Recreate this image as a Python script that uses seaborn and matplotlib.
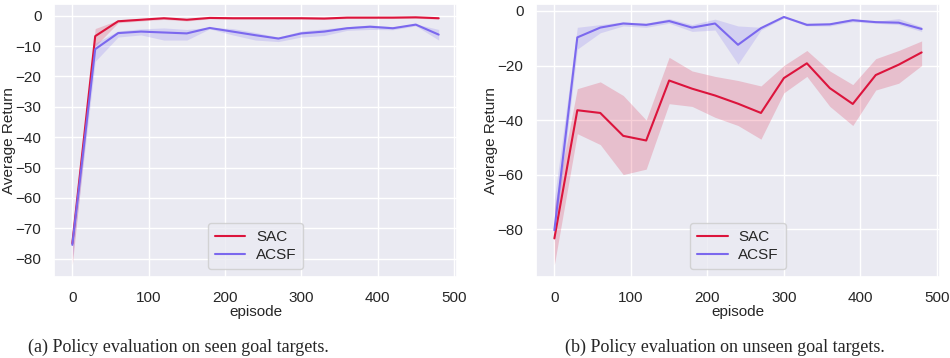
import matplotlib
matplotlib.use("Agg")
import matplotlib.pyplot as plt
import seaborn as sns
import pandas as pd

episodes = [0, 30, 60, 90, 120, 150, 180, 210, 240, 270, 300, 330, 360, 390, 420, 450, 480]

# (a) seen goal targets
seen_sac = [-75, -6.7, -1.8, -1.3, -0.8, -1.3, -0.7, -0.8, -0.8, -0.8, -0.8, -0.9, -0.6, -0.6, -0.6, -0.5, -0.8]
seen_sac_lo = [-82, -10, -2.3, -1.7, -1.2, -1.7, -1.0, -1.1, -1.1, -1.1, -1.1, -1.2, -0.9, -0.9, -0.9, -0.8, -1.1]
seen_sac_hi = [-72, -4.2, -1.4, -0.9, -0.5, -0.9, -0.4, -0.5, -0.5, -0.5, -0.5, -0.6, -0.3, -0.3, -0.3, -0.2, -0.5]
seen_acsf = [-75.5, -11, -5.7, -5.2, -5.5, -5.8, -4.0, -5.2, -6.4, -7.5, -5.8, -5.2, -4.1, -3.6, -4.1, -2.9, -6.2]
seen_acsf_lo = [-80, -15, -7.0, -6.3, -8.0, -8.0, -4.3, -6.3, -8.0, -8.5, -7.0, -6.5, -4.8, -4.5, -4.6, -3.3, -8.0]
seen_acsf_hi = [-71, -9, -5.0, -4.3, -4.0, -4.5, -3.8, -4.2, -5.5, -7.0, -5.0, -4.3, -3.6, -3.0, -3.6, -2.7, -4.5]

# (b) unseen goal targets
unseen_sac = [-83.4, -36.4, -37.4, -45.8, -47.5, -25.5, -28.5, -31, -34, -37.4, -24.6, -19.2, -28.3, -34.1, -23.5, -19.7, -15.2]
unseen_sac_lo = [-93, -45, -49, -60, -58, -34, -35, -39, -42, -47, -30, -24, -35, -42, -29, -26.5, -20]
unseen_sac_hi = [-72, -28.5, -26, -31, -40, -17, -22, -24, -25.5, -27.5, -20, -14.5, -22, -27, -17.5, -14.5, -11]
unseen_acsf = [-80.4, -9.7, -6.1, -4.6, -5.1, -3.7, -6.1, -4.6, -12.4, -6.3, -2.2, -5.1, -4.9, -3.4, -4.1, -4.3, -6.6]
unseen_acsf_lo = [-85, -14, -8, -5.5, -6, -4.5, -7.5, -7, -19.5, -7, -2.5, -5.5, -5.5, -4, -4.5, -5, -7.5]
unseen_acsf_hi = [-69, -6, -5, -4, -4.5, -2.8, -5, -3, -5.5, -6, -2, -4.5, -4.5, -2.8, -3.8, -2.8, -5.8]

captions = ["(a) Policy evaluation on seen goal targets.",
            "(b) Policy evaluation on unseen goal targets."]

sns.set_theme(style="darkgrid")
plt.rcParams["font.family"] = ["Liberation Sans", "DejaVu Sans"]
palette = {"SAC": "#DC143C", "ACSF": "#7B68EE"}

fig = plt.figure(figsize=(9.5, 3.58), dpi=100)
ax1 = fig.add_axes([54 / 950, 81 / 358, 403 / 950, 273 / 358])
ax2 = fig.add_axes([536 / 950, 81 / 358, 404 / 950, 273 / 358])

panels = [
    (ax1, seen_sac, seen_sac_lo, seen_sac_hi, seen_acsf, seen_acsf_lo, seen_acsf_hi),
    (ax2, unseen_sac, unseen_sac_lo, unseen_sac_hi, unseen_acsf, unseen_acsf_lo, unseen_acsf_hi),
]

for ax, sac, sac_lo, sac_hi, acsf, acsf_lo, acsf_hi in panels:
    df = pd.DataFrame({
        "episode": episodes * 2,
        "Average Return": sac + acsf,
        "algo": ["SAC"] * len(episodes) + ["ACSF"] * len(episodes),
    })
    sns.lineplot(data=df, x="episode", y="Average Return", hue="algo",
                 palette=palette, ax=ax, linewidth=1.5)
    ax.fill_between(episodes, sac_lo, sac_hi, color=palette["SAC"], alpha=0.2, linewidth=0)
    ax.fill_between(episodes, acsf_lo, acsf_hi, color=palette["ACSF"], alpha=0.2, linewidth=0)
    ax.set_xticks([0, 100, 200, 300, 400, 500])
    ax.tick_params(axis="x", labelsize=11, pad=4)
    ax.tick_params(axis="y", labelsize=11, pad=3)
    ax.set_xlabel("episode", fontsize=11, labelpad=0)
    ax.set_ylabel("Average Return", fontsize=11)
    ax.yaxis.set_label_coords(-0.094, 0.5)
    ax.legend(loc="lower center", fontsize=11, title=None, handlelength=2.0,
              handletextpad=0.7, borderpad=0.45, labelspacing=0.3)

ax1.set_yticks([-80, -70, -60, -50, -40, -30, -20, -10, 0])
ax2.set_yticks([-80, -60, -40, -20, 0])

fig.text(178 / 950, 11 / 358, captions[0], ha="center", va="center",
         family="Liberation Serif", fontsize=13)
fig.text(725 / 950, 11 / 358, captions[1], ha="center", va="center",
         family="Liberation Serif", fontsize=13)

fig.savefig("out.png", dpi=100)
